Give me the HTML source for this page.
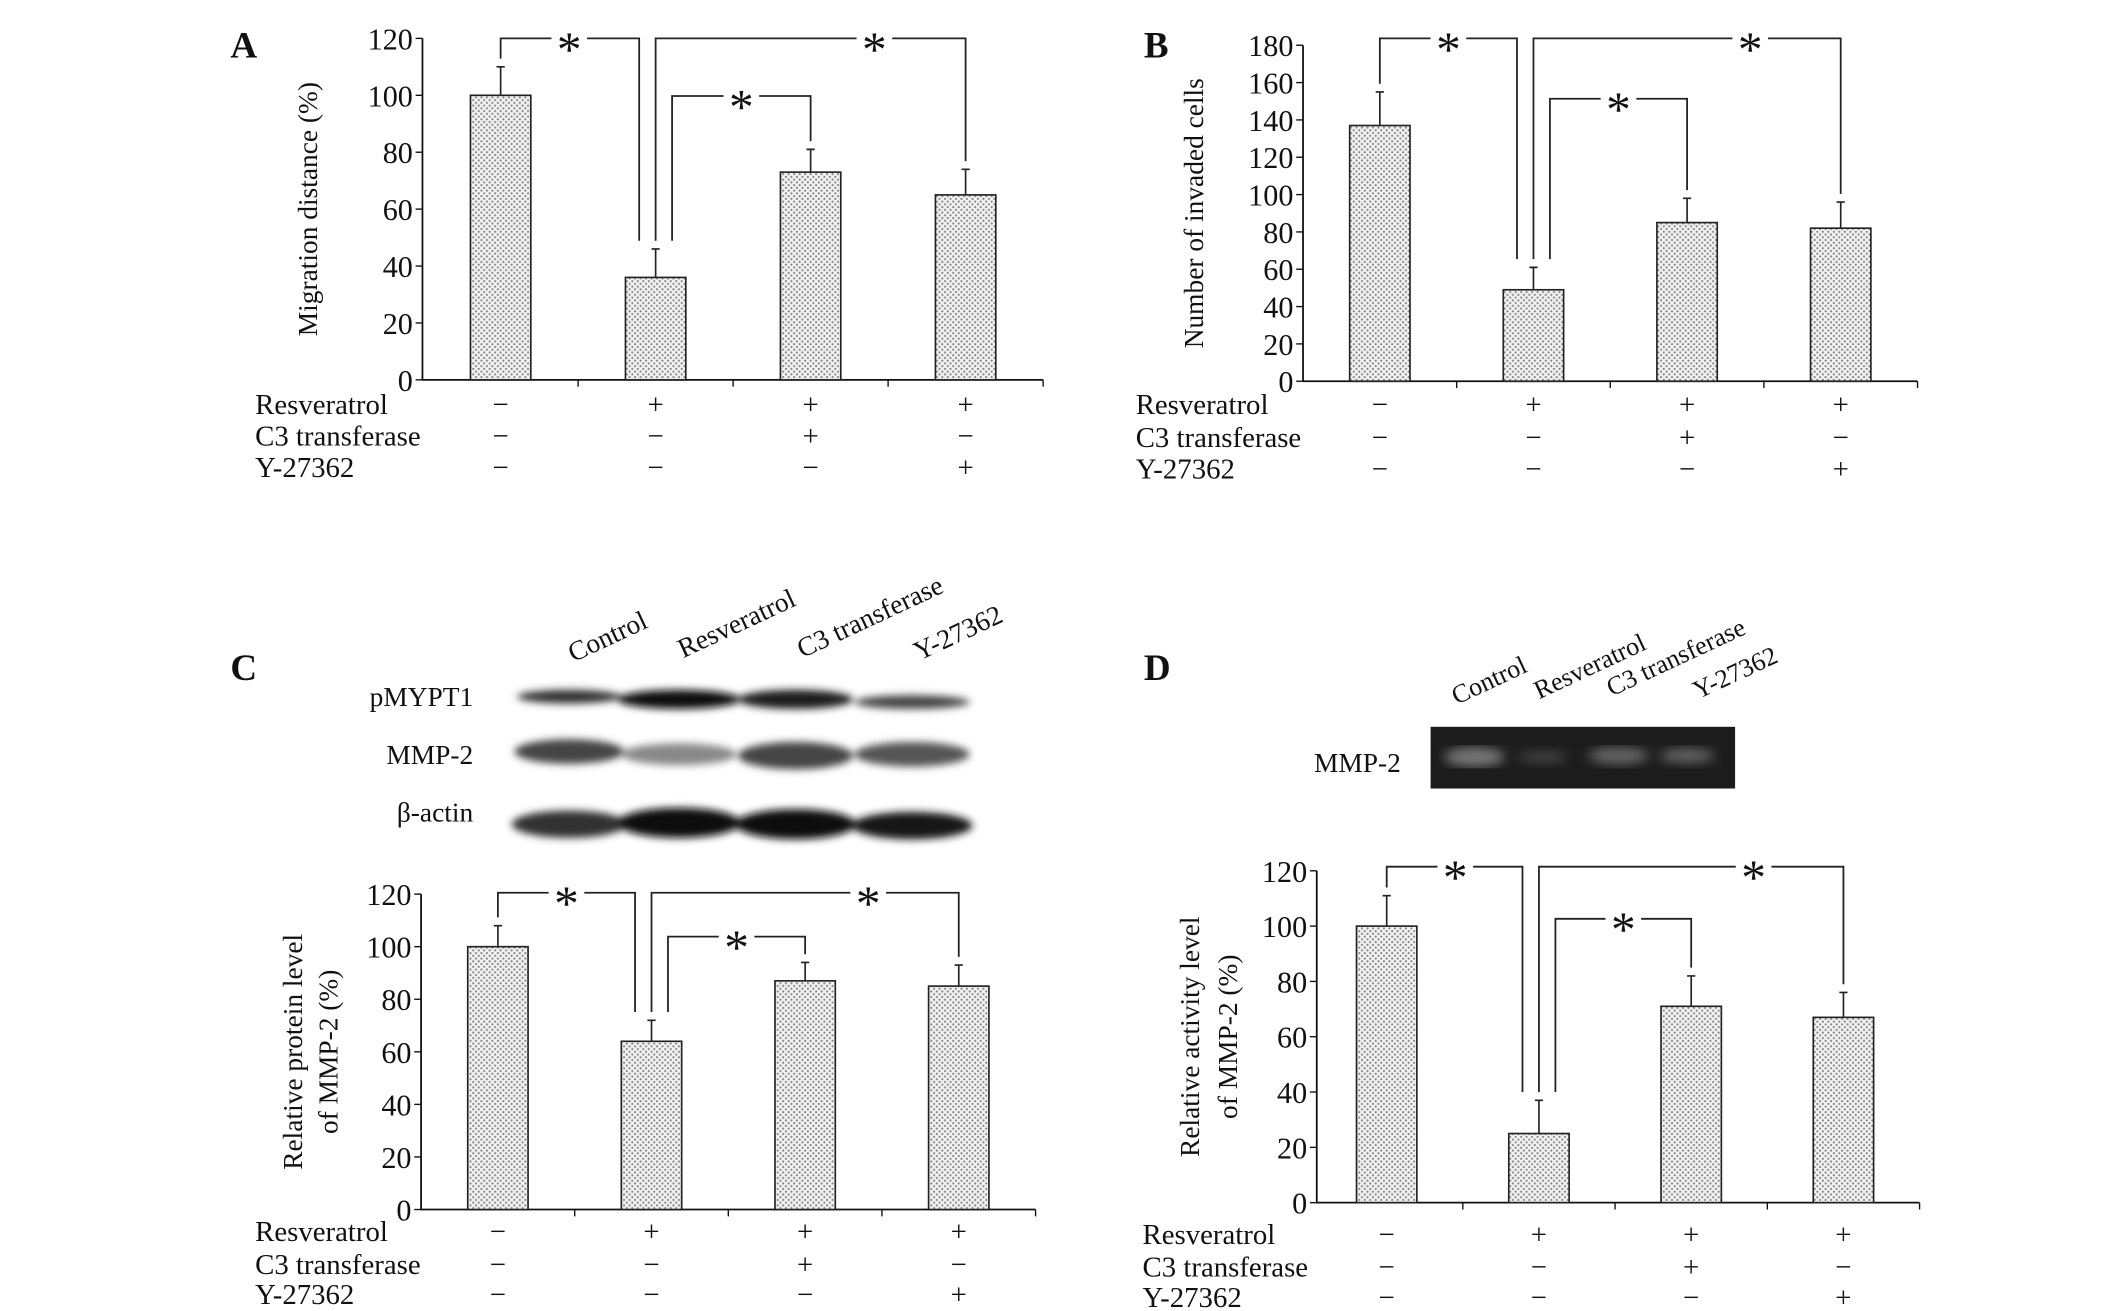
<!DOCTYPE html>
<html><head><meta charset="utf-8"><style>
html,body{margin:0;padding:0;background:#fff}
svg{display:block}
text{font-family:"Liberation Serif",serif;fill:#111}
</style></head><body>
<svg id="fig" width="2126" height="1311" viewBox="0 0 1550 956" preserveAspectRatio="none" xmlns="http://www.w3.org/2000/svg">
<defs>
<pattern id="dots" width="4" height="4" patternUnits="userSpaceOnUse">
<rect width="4" height="4" fill="#f2f2f2"/><circle cx="1" cy="1" r="0.8" fill="#888"/><circle cx="3" cy="3" r="0.8" fill="#888"/>
</pattern>
<filter id="blur"><feGaussianBlur stdDeviation="3"/></filter>
<filter id="blur2"><feGaussianBlur stdDeviation="4"/></filter>
</defs>
<g id="blot">
<text x="345" y="515" text-anchor="end" font-size="20">pMYPT1</text>
<text x="345" y="557" text-anchor="end" font-size="20">MMP-2</text>
<text x="345" y="599" text-anchor="end" font-size="20">β-actin</text>
<g filter="url(#blur)">
<ellipse cx="415" cy="508" rx="38" ry="5" fill="#333"/><ellipse cx="495" cy="510" rx="45" ry="7" fill="#111"/><ellipse cx="580" cy="510" rx="42" ry="7" fill="#1a1a1a"/><ellipse cx="665" cy="512" rx="42" ry="5" fill="#444"/>
<ellipse cx="415" cy="548" rx="40" ry="9" fill="#444"/><ellipse cx="495" cy="550" rx="42" ry="8" fill="#888"/><ellipse cx="580" cy="551" rx="42" ry="10" fill="#444"/><ellipse cx="665" cy="550" rx="42" ry="9" fill="#555"/>
<ellipse cx="415" cy="601" rx="42" ry="10" fill="#333"/><ellipse cx="495" cy="600" rx="45" ry="11" fill="#0a0a0a"/><ellipse cx="580" cy="601" rx="44" ry="11" fill="#111"/><ellipse cx="665" cy="602" rx="44" ry="10" fill="#181818"/>
</g>
<text transform="translate(418,483) rotate(-25)" font-size="20">Control</text>
<text transform="translate(498,480) rotate(-25)" font-size="20">Resveratrol</text>
<text transform="translate(585,480) rotate(-25)" font-size="20">C3 transferase</text>
<text transform="translate(670,482) rotate(-25)" font-size="20">Y-27362</text>
</g>
<g id="gel">
<rect x="1043" y="530" width="222" height="45" fill="#1c1c1c"/>
<g filter="url(#blur2)"><ellipse cx="1075" cy="552" rx="22" ry="7" fill="#777"/><ellipse cx="1125" cy="552" rx="18" ry="4" fill="#444"/><ellipse cx="1180" cy="551" rx="22" ry="6" fill="#666"/><ellipse cx="1230" cy="551" rx="20" ry="5" fill="#666"/></g>
<text x="958" y="563" font-size="20">MMP-2</text>
<text transform="translate(1062,514) rotate(-25)" font-size="19">Control</text>
<text transform="translate(1122,510) rotate(-25)" font-size="19">Resveratrol</text>
<text transform="translate(1175,508) rotate(-25)" font-size="19">C3 transferase</text>
<text transform="translate(1238,510) rotate(-25)" font-size="19">Y-27362</text>
</g>
</svg>
<script>
const valuesA=[100,36,73,65], errA=[10,10,8,9];
const valuesB=[137,49,85,82], errB=[18,12,13,14];
const valuesC=[100,64,87,85], errC=[8,8,7,8];
const valuesD=[100,25,71,67], errD=[11,12,11,9];
const ticksA=[0,20,40,60,80,100,120];
const ticksB=[0,20,40,60,80,100,120,140,160,180];
const ticksC=[0,20,40,60,80,100,120];
const ticksD=[0,20,40,60,80,100,120];
const rowLabels=["Resveratrol","C3 transferase","Y-27362"];
const signs=[["−","+","+","+"],["−","−","+","−"],["−","−","−","+"]];
const NS="http://www.w3.org/2000/svg";
const svg=document.getElementById('fig');
function mk(tag,attrs,parent,txt){const e=document.createElementNS(NS,tag);for(const k in attrs)e.setAttribute(k,attrs[k]);if(txt!==undefined)e.textContent=txt;parent.appendChild(e);return e;}
function panel(cfg){
 const g=mk('g',{},svg);
 
 
 const y=v=>cfg.y0-(v/cfg.max)*(cfg.y0-cfg.ytop);
 const x=i=>cfg.x0+cfg.cx0+i*cfg.step;
 const L=mk('text',{x:cfg.lx,y:cfg.ly,'font-size':27,'font-weight':'bold'},g,cfg.id);
 
 
 const xend=cfg.x0+cfg.step*4+cfg.cx0-cfg.step/2;
 const ax=mk('path',{d:`M${cfg.x0},${cfg.ytop} V${cfg.y0} H${xend}`,stroke:'#111','stroke-width':1.3,fill:'none'},g);
 
 
 cfg.ticks.forEach(t=>{
  mk('line',{x1:cfg.x0-5,x2:cfg.x0,y1:y(t),y2:y(t),stroke:'#111'},g);
  const tl=mk('text',{x:cfg.x0-7,y:y(t)+8,'font-size':22,'text-anchor':'end'},g,t);
  
  
 });
 for(let i=1;i<=4;i++){const xx=cfg.x0+cfg.cx0+(i-0.5)*cfg.step;mk('line',{x1:xx,x2:xx,y1:cfg.y0,y2:cfg.y0+5,stroke:'#111'},g);}
 cfg.vals.forEach((v,i)=>{
  const b=mk('rect',{x:x(i)-22,y:y(v),width:44,height:cfg.y0-y(v),fill:'url(#dots)',stroke:'#222','stroke-width':1.2},g);
  
  
  const e=mk('path',{d:`M${x(i)},${y(v)} V${y(v+cfg.err[i])} M${x(i)-3},${y(v+cfg.err[i])} H${x(i)+3}`,stroke:'#222','stroke-width':1.2,fill:'none'},g);
  
  
 });
 const top=i=>y(cfg.vals[i]+cfg.err[i])-6;
 const br=[[x(0),top(0),x(1)-12,top(1),cfg.b1,x(0)+50],[x(1),top(1),x(3),top(3),cfg.b1,(x(2)+x(3))/2-10],[x(1)+12,top(1),x(2),top(2),cfg.b2,(x(1)+x(2))/2+6]];
 br.forEach((b,k)=>{
  const p=mk('path',{d:`M${b[0]},${b[1]} V${b[4]} H${b[5]-13} M${b[5]+13},${b[4]} H${b[2]} V${b[3]}`,stroke:'#222','stroke-width':1.3,fill:'none'},g);
  
  
  const s=mk('text',{x:b[5],y:b[4]+20,'font-size':36,'text-anchor':'middle'},g,'*');
  
  
 });
 cfg.title.forEach((t,k)=>{
  const tt=mk('text',{transform:`translate(${cfg.tx[k]},${(cfg.y0+cfg.ytop)/2}) rotate(-90)`,'font-size':20,'text-anchor':'middle'},g,t);
  
  
 });
 rowLabels.forEach((r,k)=>{
  const ry=cfg.rows[k];
  const rl=mk('text',{x:cfg.rlx,y:ry,'font-size':21},g,r);
  
  
  signs[k].forEach((s,i)=>{const st=mk('text',{x:x(i),y:ry,'font-size':21,'text-anchor':'middle'},g,s);
   
   });
 });
}
panel({id:'A',x0:308,cx0:57,step:113,y0:277,ytop:28,max:120,ticks:ticksA,vals:valuesA,err:errA,b1:28,b2:70,lx:168,ly:42,title:['Migration distance (%)'],tx:[231],rows:[302,325,348],rlx:186});
panel({id:'B',x0:950,cx0:56,step:112,y0:278,ytop:33,max:180,ticks:ticksB,vals:valuesB,err:errB,b1:28,b2:72,lx:834,ly:42,title:['Number of invaded cells'],tx:[877],rows:[302,326,349],rlx:828});
panel({id:'C',x0:307,cx0:56,step:112,y0:882,ytop:652,max:120,ticks:ticksC,vals:valuesC,err:errC,b1:651,b2:683,lx:168,ly:496,title:['Relative protein level','of MMP-2 (%)'],tx:[220,246],rows:[905,929,951],rlx:186});
panel({id:'D',x0:960,cx0:51,step:111,y0:877,ytop:635,max:120,ticks:ticksD,vals:valuesD,err:errD,b1:632,b2:670,lx:834,ly:496,title:['Relative activity level','of MMP-2 (%)'],tx:[874,902],rows:[907,931,953],rlx:833});
</script>
</body></html>
